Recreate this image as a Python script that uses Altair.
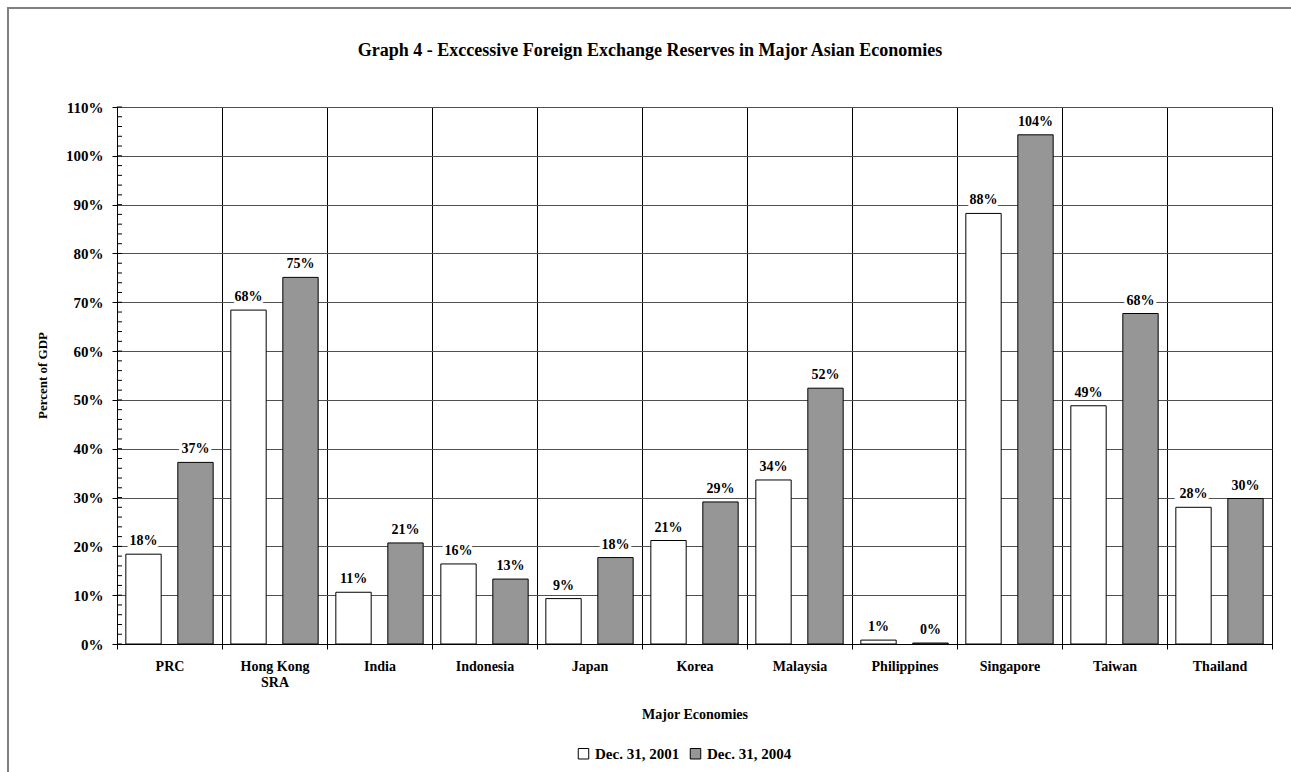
import altair as alt
import pandas as pd

countries = ["PRC", "Hong Kong SRA", "India", "Indonesia", "Japan", "Korea",
             "Malaysia", "Philippines", "Singapore", "Taiwan", "Thailand"]
series_names = ["Dec. 31, 2001", "Dec. 31, 2004"]
v2001 = [18.4, 68.4, 10.6, 16.4, 9.3, 21.2, 33.6, 0.8, 88.2, 48.8, 28.0]
v2004 = [37.2, 75.1, 20.7, 13.3, 17.7, 29.1, 52.4, 0.2, 104.3, 67.7, 29.8]
y_ticks = [0, 10, 20, 30, 40, 50, 60, 70, 80, 90, 100, 110]
minor_ticks = list(range(0, 111, 2))
title_text = "Graph 4 - Exccessive Foreign Exchange Reserves in Major Asian Economies"

rows = []
for c, a, b in zip(countries, v2001, v2004):
    rows.append({"country": c, "series": series_names[0], "value": a})
    rows.append({"country": c, "series": series_names[1], "value": b})
df = pd.DataFrame(rows)

FONT = "Liberation Serif"

x_enc = alt.X("country:N", sort=countries,
              scale=alt.Scale(paddingInner=0, paddingOuter=0),
              axis=alt.Axis(title="Major Economies", labelAngle=0, tickBand="extent",
                            grid=True, gridColor="black", gridWidth=1,
                            domainColor="black", tickColor="black", tickSize=5,
                            labelFont=FONT, labelFontWeight="bold", labelFontSize=14,
                            labelColor="black", labelPadding=10, labelLineHeight=16,
                            labelExpr="datum.value == 'Hong Kong SRA' ? ['Hong Kong', 'SRA'] : datum.value",
                            titleFont=FONT, titleFontWeight="bold", titleFontSize=14,
                            titleColor="black", titleY=70, titleBaseline="middle"))
xo_enc = alt.XOffset("series:N", sort=series_names,
                     scale=alt.Scale(paddingInner=0.32, paddingOuter=0.17))
y_enc = alt.Y("value:Q", scale=alt.Scale(domain=[0, 110], nice=False),
              axis=alt.Axis(values=y_ticks, labelExpr="datum.value + '%'",
                            grid=True, gridColor="#505050", gridWidth=1,
                            domainColor="black", tickColor="black", tickSize=5,
                            labelFont=FONT, labelFontWeight="bold", labelFontSize=15,
                            labelColor="black", labelPadding=9,
                            title="Percent of GDP", titleFont=FONT, titleFontWeight="bold",
                            titleFontSize=13, titleColor="black",
                            titleX=-75, titleY=268, titleBaseline="middle"))

base = alt.Chart(df)

bars = base.mark_bar(stroke="black", strokeWidth=1).encode(
    x=x_enc, xOffset=xo_enc, y=y_enc,
    color=alt.Color("series:N", sort=series_names,
                    scale=alt.Scale(domain=series_names, range=["white", "#969696"]),
                    legend=alt.Legend(title=None, orient="none", legendX=459, legendY=639,
                                      direction="horizontal", symbolType="square",
                                      symbolSize=110, symbolStrokeColor="black",
                                      symbolStrokeWidth=1, labelFont=FONT,
                                      labelFontWeight="bold", labelFontSize=15,
                                      labelColor="black", columnPadding=8,
                                      symbolOffset=0, labelOffset=4))
)

lab = base.transform_calculate(label="format(datum.value, '.0f') + '%'")
halo = lab.mark_text(font=FONT, fontWeight="bold", fontSize=14, dy=-9,
                     baseline="alphabetic", stroke="white", strokeWidth=6,
                     fill="white").encode(
    x=alt.X("country:N", sort=countries), xOffset=alt.XOffset("series:N", sort=series_names),
    y="value:Q", text="label:N")
texts = lab.mark_text(font=FONT, fontWeight="bold", fontSize=14, dy=-9,
                      baseline="alphabetic", color="black").encode(
    x=alt.X("country:N", sort=countries), xOffset=alt.XOffset("series:N", sort=series_names),
    y="value:Q", text="label:N")

minor = alt.Chart(pd.DataFrame({"value": minor_ticks})).mark_rule(
    color="black", strokeWidth=1).encode(
    y="value:Q", x=alt.value(0), x2=alt.value(5))

one = pd.DataFrame({"t": [title_text]})
frame_left = alt.Chart(one).mark_rule(color="#808080", strokeWidth=2).encode(
    x=alt.value(-109), y=alt.value(-99), y2=alt.value(670))
frame_top = alt.Chart(one).mark_rule(color="#808080", strokeWidth=2).encode(
    x=alt.value(-110), x2=alt.value(1180), y=alt.value(-99))
title = alt.Chart(one).mark_text(font=FONT, fontWeight="bold", fontSize=18,
                                 color="black", baseline="alphabetic", align="center").encode(
    text="t:N", x=alt.value(533), y=alt.value(-51))

chart = alt.layer(bars, halo, texts, minor, frame_left, frame_top, title).properties(
    width=1155, height=537,
    autosize=alt.AutoSizeParams(type="none"),
    padding={"left": 117, "top": 107, "right": 19, "bottom": 128},
).configure_view(stroke="#808080", strokeWidth=1.5).configure(background="white")

chart.save("out.html", embed_options={"renderer": "svg", "actions": False})
